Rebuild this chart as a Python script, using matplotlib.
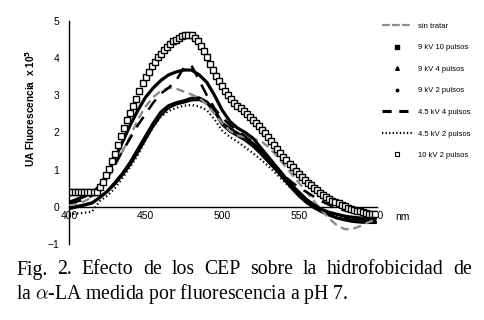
import numpy as np
import matplotlib
matplotlib.use('Agg')
import matplotlib.pyplot as plt
from matplotlib.lines import Line2D

plt.rcParams['font.family'] = ['Liberation Sans', 'DejaVu Sans']
plt.rcParams['mathtext.fontset'] = 'cm'

# longitud de onda cada 5 nm
nm = np.arange(400, 601, 5)

sin_tratar = [0.05, 0.08, 0.15, 0.25, 0.45, 0.75, 1.1, 1.5, 1.9, 2.35, 2.7,
              2.95, 3.12, 3.2, 3.18, 3.1, 3.02, 2.93, 2.75, 2.5, 2.25, 2.05,
              1.92, 1.87, 1.83, 1.78, 1.62, 1.4, 1.15, 0.9, 0.65, 0.4, 0.15,
              -0.1, -0.32, -0.5, -0.6, -0.6, -0.52, -0.42, -0.35]
kv9_10p = [0.12, 0.2, 0.28, 0.38, 0.55, 0.9, 1.3, 1.75, 2.2, 2.6, 2.95,
           3.2, 3.4, 3.55, 3.63, 3.68, 3.68, 3.55, 3.35, 3.0, 2.6, 2.3,
           2.12, 2.0, 1.85, 1.6, 1.35, 1.1, 0.85, 0.6, 0.4, 0.2, 0.05,
           -0.07, -0.15, -0.2, -0.25, -0.28, -0.3, -0.3, -0.3]
kv9_4p = [-0.05, 0.0, 0.05, 0.1, 0.25, 0.42, 0.65, 0.9, 1.2, 1.55, 1.9,
          2.25, 2.55, 2.72, 2.8, 2.85, 2.92, 2.93, 2.82, 2.6, 2.25, 2.1,
          1.98, 1.85, 1.7, 1.5, 1.28, 1.05, 0.8, 0.55, 0.33, 0.15, 0.0,
          -0.12, -0.22, -0.3, -0.35, -0.39, -0.41, -0.42, -0.42]
kv9_2p = [-0.02, 0.02, 0.06, 0.12, 0.24, 0.4, 0.6, 0.85, 1.12, 1.45, 1.8,
          2.15, 2.45, 2.65, 2.75, 2.8, 2.86, 2.87, 2.78, 2.55, 2.2, 2.02,
          1.9, 1.78, 1.62, 1.42, 1.2, 0.98, 0.74, 0.5, 0.28, 0.1, -0.04,
          -0.15, -0.23, -0.29, -0.32, -0.34, -0.35, -0.36, -0.36]
kv45_4p = [0.1, 0.14, 0.2, 0.3, 0.5, 0.8, 1.15, 1.5, 1.85, 2.2, 2.5,
           2.8, 3.05, 3.2, 3.4, 3.75, 3.8, 3.4, 3.0, 2.65, 2.4, 2.2,
           2.05, 1.9, 1.72, 1.5, 1.28, 1.05, 0.85, 0.68, 0.52, 0.4, 0.27,
           0.15, 0.05, -0.03, -0.1, -0.15, -0.18, -0.2, -0.22]
kv45_2p = [-0.2, -0.18, -0.16, -0.13, 0.15, 0.3, 0.5, 0.78, 1.08, 1.4, 1.8,
           2.15, 2.42, 2.58, 2.66, 2.72, 2.74, 2.7, 2.6, 2.35, 2.05, 1.88,
           1.75, 1.6, 1.45, 1.28, 1.1, 0.9, 0.7, 0.5, 0.32, 0.15, 0.02,
           -0.1, -0.19, -0.25, -0.29, -0.31, -0.33, -0.34, -0.35]

# 10 kV 2 pulsos, cada 2 nm
nm2 = np.arange(400, 601, 2)
kv10_2p = [0.4, 0.4, 0.4, 0.4, 0.4, 0.4, 0.4, 0.4, 0.4, 0.4,
           0.52, 0.67, 0.85, 1.03, 1.22, 1.42, 1.65, 1.9, 2.13, 2.33,
           2.52, 2.7, 2.9, 3.12, 3.33, 3.5, 3.64, 3.78, 3.9, 4.02,
           4.12, 4.22, 4.3, 4.38, 4.45, 4.5, 4.55, 4.6, 4.62, 4.63,
           4.62, 4.55, 4.45, 4.32, 4.18, 4.02, 3.85, 3.68, 3.52, 3.38,
           3.25, 3.12, 3.0, 2.9, 2.8, 2.72, 2.65, 2.58, 2.5, 2.42,
           2.34, 2.26, 2.17, 2.08, 1.98, 1.88, 1.78, 1.67, 1.56, 1.45,
           1.35, 1.25, 1.15, 1.06, 0.97, 0.88, 0.8, 0.72, 0.65, 0.58,
           0.51, 0.44, 0.38, 0.32, 0.27, 0.22, 0.17, 0.13, 0.09, 0.05,
           0.01, -0.02, -0.05, -0.08, -0.1, -0.12, -0.14, -0.16, -0.18, -0.19,
           -0.2]

labels = ['sin tratar', '9 kV 10 pulsos', '9 kV 4 pulsos', '9 kV 2 pulsos',
          '4.5 kV 4 pulsos', '4.5 kV 2 pulsos', '10 kV 2 pulsos']
yticks = [-1, 0, 1, 2, 3, 4, 5]
xticks = [400, 450, 500, 550, 600]

fig = plt.figure(figsize=(4.84, 3.2), dpi=100)
ax = fig.add_axes([0.1426, 0.2375, 0.636, 0.697])

gris = '#8c8c8c'
ax.plot(nm, kv45_2p, color='black', lw=1.6, ls=(0, (0.6, 1.2)), zorder=2)
ax.plot(nm, kv9_2p, color='black', lw=1.4, zorder=3)
ax.plot(nm, kv9_4p, color='black', lw=2.3, zorder=3)
ax.plot(nm, sin_tratar, color=gris, lw=1.7, ls=(0, (3.5, 2)), zorder=4)
ax.plot(nm, kv45_4p, color='black', lw=1.8, ls=(0, (5, 3.5)), zorder=4)
ax.plot(nm, kv9_10p, color='black', lw=2.3, zorder=5)
ax.plot(nm2, kv10_2p, ls='none', marker='s', ms=4.6, mfc='white',
        mec='black', mew=1.0, zorder=6)

ax.set_xlim(400, 601)
ax.set_ylim(-1, 5)
ax.set_xticks(xticks)
ax.set_yticks(yticks)
ax.spines['top'].set_visible(False)
ax.spines['right'].set_visible(False)
ax.spines['bottom'].set_position(('data', 0))
ax.spines['left'].set_linewidth(1.0)
ax.spines['bottom'].set_linewidth(1.0)
ax.tick_params(axis='both', length=0, labelsize=7.5)
ax.tick_params(axis='y', pad=7)
ax.tick_params(axis='x', pad=3)
ax.text(613, -0.28, 'nm', fontsize=7.5, ha='left', va='center', clip_on=False)

fig.text(30 / 484, 1 - 108 / 320, 'UA Fluorescencia  x 10$^{\\mathbf{5}}$',
         rotation=90, fontsize=7.3, fontweight='bold', ha='center', va='center',
         math_fontfamily='dejavusans')

handles = [
    Line2D([], [], color=gris, lw=1.6, ls=(0, (3.5, 1))),
    Line2D([], [], ls='none', marker='s', ms=2.2, color='black'),
    Line2D([], [], ls='none', marker='^', ms=2.6, color='black'),
    Line2D([], [], ls='none', marker='o', ms=1.8, color='black'),
    Line2D([], [], color='black', lw=2.2, ls=(0, (3, 2.5))),
    Line2D([], [], color='black', lw=1.6, ls=(0, (0.6, 1.0))),
    Line2D([], [], ls='none', marker='s', ms=3.5, mfc='white', mec='black', mew=0.8),
]
fig.legend(handles, labels, loc='upper left', bbox_to_anchor=(0.789, 0.93),
           frameon=False, fontsize=5.5, handlelength=3.9, handletextpad=0.8,
           labelspacing=1.86, borderpad=0, borderaxespad=0)

# pie de figura, primera línea justificada
serif = ['Liberation Serif', 'DejaVu Serif']
cap_size = 14.2
linea1 = ['Fig.', '2.', 'Efecto', 'de', 'los', 'CEP', 'sobre', 'la',
          'hidrofobicidad', 'de']
x_izq, x_der = 16, 472
renderer = fig.canvas.get_renderer()
palabras = [fig.text(0, 1 - 270 / 320, w, family=serif, fontsize=cap_size,
                     ha='left', va='center') for w in linea1]
anchos = [t.get_window_extent(renderer).width for t in palabras]
hueco = (x_der - x_izq - sum(anchos)) / (len(linea1) - 1)
x = x_izq
for t, w in zip(palabras, anchos):
    t.set_x(x / 484)
    x += w + hueco
fig.text(x_izq / 484, 1 - 294 / 320,
         'la $\\alpha$-LA medida por fluorescencia a pH 7.',
         family=serif, fontsize=cap_size, ha='left', va='center')

fig.savefig('out.png', dpi=100)
